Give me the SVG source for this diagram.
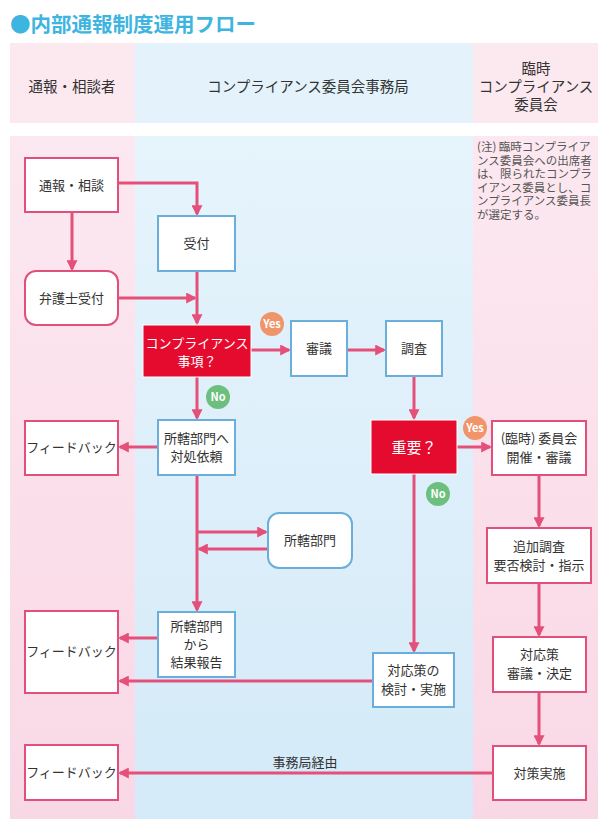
<svg xmlns="http://www.w3.org/2000/svg" width="600" height="819" viewBox="0 0 600 819">
<defs>
<linearGradient id="gPink" x1="0" y1="0" x2="0" y2="1"><stop offset="0" stop-color="#fce8f0"/><stop offset="1" stop-color="#f9d8e6"/></linearGradient>
<linearGradient id="gBlue" x1="0" y1="0" x2="0" y2="1"><stop offset="0" stop-color="#e6f4fc"/><stop offset="1" stop-color="#d4eaf8"/></linearGradient>
<marker id="ah" viewBox="0 0 10 10" refX="8" refY="5" markerWidth="11" markerHeight="11" markerUnits="userSpaceOnUse" orient="auto"><path d="M0,0 L10,5 L0,10 z" fill="#e5507a"/></marker>
</defs>
<style>
text{font-family:"Noto Sans CJK JP","Noto Sans",sans-serif;}
.t{font-size:13px;fill:#333;text-anchor:middle;}
.h{font-size:14.5px;fill:#333;text-anchor:middle;}
.w{fill:#fff;text-anchor:middle;}
.pk{fill:#fff;stroke:#e0507a;stroke-width:2;}
.bl{fill:#fff;stroke:#6aaedc;stroke-width:2;}
.rd{fill:#e50b2e;stroke:#fff;stroke-width:1;}
.c{fill:none;stroke:#e5507a;stroke-width:3;}
.ca{fill:none;stroke:#e5507a;stroke-width:3;marker-end:url(#ah);}
.note{font-size:11.5px;fill:#555;}
.bt{font-size:11px;font-weight:bold;fill:#fff;text-anchor:middle;}
</style>
<rect width="600" height="819" fill="#fff"/>
<text x="10" y="32" font-size="20.5" font-weight="bold" fill="#3eb5e0">●内部通報制度運用フロー</text>
<g id="lanes">
<rect x="10" y="43" width="125" height="80" fill="#fce9f0"/>
<rect x="135" y="43" width="338" height="80" fill="#e4f3fb"/>
<rect x="473" y="43" width="125" height="80" fill="#fce9f0"/>
<rect x="10" y="136" width="125" height="683" fill="url(#gPink)"/>
<rect x="135" y="136" width="338" height="683" fill="url(#gBlue)"/>
<rect x="473" y="136" width="125" height="683" fill="url(#gPink)"/>
<text class="h" x="72" y="92">通報・相談者</text>
<text class="h" x="308" y="92">コンプライアンス委員会事務局</text>
<text class="h" x="536" y="74">臨時</text>
<text class="h" x="536" y="92">コンプライアンス</text>
<text class="h" x="536" y="110">委員会</text>
</g>
<g id="note">
<text class="note" x="477" y="151">(注) 臨時コンプライア</text>
<text class="note" x="477" y="164.5">ンス委員会への出席者</text>
<text class="note" x="477" y="178">は、限られたコンプラ</text>
<text class="note" x="477" y="191.5">イアンス委員とし、コ</text>
<text class="note" x="477" y="205">ンプライアンス委員長</text>
<text class="note" x="477" y="218.5">が選定する。</text>
</g>
<g id="connectors">
<path class="ca" d="M118,183 H197 V214"/>
<path class="ca" d="M72,212 V269"/>
<path class="ca" d="M118,298 H195"/>
<path class="ca" d="M197,271 V323"/>
<path class="ca" d="M251,350 H289"/>
<path class="ca" d="M347,350 H384"/>
<path class="ca" d="M414,376 V418"/>
<path class="ca" d="M197,377 V418"/>
<path class="ca" d="M158,447 H120"/>
<path class="ca" d="M197,475 V610"/>
<path class="ca" d="M197,532 H266"/>
<path class="ca" d="M268,549 H199"/>
<path class="ca" d="M158,638 H120"/>
<path class="ca" d="M373,681 H120"/>
<path class="ca" d="M457,447 H490"/>
<path class="ca" d="M414,474 V651"/>
<path class="ca" d="M539,475 V526"/>
<path class="ca" d="M539,583 V635"/>
<path class="ca" d="M539,692 V744"/>
<path class="ca" d="M493,773 H120"/>
<text class="t" x="305" y="767">事務局経由</text>
</g>
<g id="n-tsuho"><rect class="pk" x="25" y="158" width="93" height="54"/><text class="t" x="71.5" y="190">通報・相談</text></g>
<g id="n-uketsuke"><rect class="bl" x="158" y="216" width="77" height="55"/><text class="t" x="196.5" y="248">受付</text></g>
<g id="n-bengoshi"><rect class="pk" x="25" y="271" width="93" height="54" rx="11"/><text class="t" x="71.5" y="303">弁護士受付</text></g>
<g id="n-compliance"><rect class="rd" x="143" y="325" width="108" height="52"/><text class="w" x="197" y="348" font-size="13">コンプライアンス</text><text class="w" x="197" y="366" font-size="13">事項？</text></g>
<g id="yes1"><circle cx="272" cy="324" r="12" fill="#f0956a"/><text class="bt" x="272" y="328">Yes</text></g>
<g id="no1"><circle cx="218" cy="397" r="12" fill="#6dbf7e"/><text class="bt" x="218" y="401">No</text></g>
<g id="n-shingi"><rect class="bl" x="291" y="321" width="56" height="55"/><text class="t" x="319" y="353">審議</text></g>
<g id="n-chosa"><rect class="bl" x="386" y="321" width="56" height="55"/><text class="t" x="414" y="353">調査</text></g>
<g id="n-fb1"><rect class="pk" x="25" y="421" width="93" height="54"/><text class="t" x="71.5" y="452">フィードバック</text></g>
<g id="n-irai"><rect class="bl" x="158" y="420" width="77" height="55"/><text class="t" x="196.5" y="443">所轄部門へ</text><text class="t" x="196.5" y="461">対処依頼</text></g>
<g id="n-juyo"><rect class="rd" x="371" y="420" width="86" height="54"/><text class="w" x="414" y="453" font-size="15">重要？</text></g>
<g id="yes2"><circle cx="475" cy="428" r="12" fill="#f0956a"/><text class="bt" x="475" y="432">Yes</text></g>
<g id="no2"><circle cx="438" cy="494" r="12" fill="#6dbf7e"/><text class="bt" x="438" y="498">No</text></g>
<g id="n-iinkai"><rect class="pk" x="492" y="421" width="94" height="54"/><text class="t" x="539" y="443">(臨時) 委員会</text><text class="t" x="539" y="462">開催・審議</text></g>
<g id="n-shokan"><rect class="bl" x="268" y="513" width="84" height="55" rx="11"/><text class="t" x="310" y="545">所轄部門</text></g>
<g id="n-tsuika"><rect class="pk" x="487" y="528" width="104" height="55"/><text class="t" x="539" y="551">追加調査</text><text class="t" x="539" y="570">要否検討・指示</text></g>
<g id="n-hokoku"><rect class="bl" x="158" y="612" width="77" height="65"/><text class="t" x="196.5" y="631">所轄部門</text><text class="t" x="196.5" y="649">から</text><text class="t" x="196.5" y="667">結果報告</text></g>
<g id="n-fb2"><rect class="pk" x="25" y="611" width="93" height="82"/><text class="t" x="71.5" y="656">フィードバック</text></g>
<g id="n-kento"><rect class="bl" x="373" y="653" width="81" height="54"/><text class="t" x="413.5" y="675">対応策の</text><text class="t" x="413.5" y="694">検討・実施</text></g>
<g id="n-kettei"><rect class="pk" x="493" y="637" width="93" height="55"/><text class="t" x="539.5" y="659">対応策</text><text class="t" x="539.5" y="678">審議・決定</text></g>
<g id="n-jisshi"><rect class="pk" x="493" y="746" width="93" height="54"/><text class="t" x="539.5" y="778">対策実施</text></g>
<g id="n-fb3"><rect class="pk" x="25" y="745" width="93" height="55"/><text class="t" x="71.5" y="777">フィードバック</text></g>
</svg>
